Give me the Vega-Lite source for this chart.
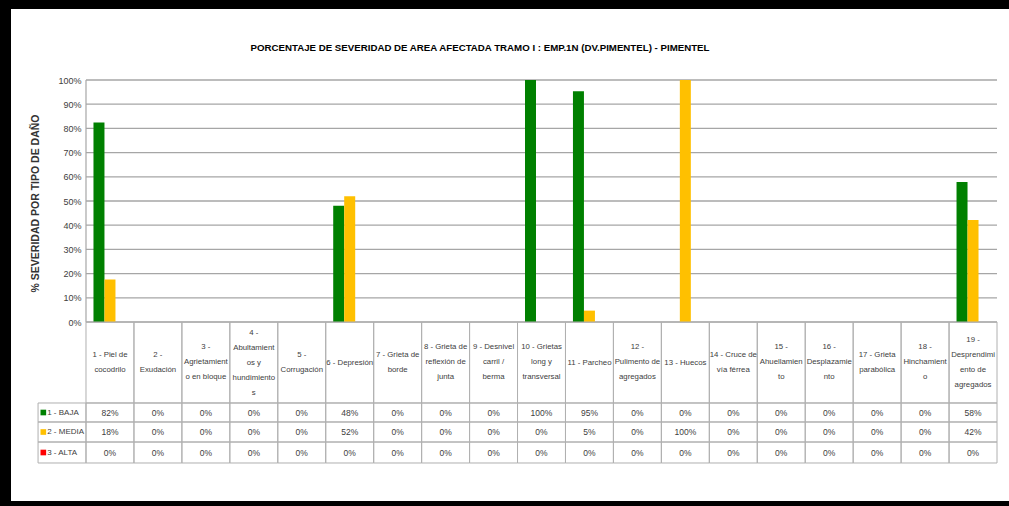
{
  "$schema": "https://vega.github.io/schema/vega-lite/v6.json",
  "width": 998,
  "height": 492,
  "autosize": {"type": "none"},
  "padding": {"left": 11, "top": 9, "right": 0, "bottom": 5},
  "background": "#000000",
  "config": {
    "view": {"fill": "#ffffff", "stroke": null},
    "font": "Liberation Sans",
    "text": {"font": "Liberation Sans"}
  },
  "title": {
    "text": "PORCENTAJE DE SEVERIDAD DE AREA AFECTADA TRAMO I : EMP.1N (DV.PIMENTEL) - PIMENTEL",
    "font": "Liberation Sans",
    "fontSize": 9.7,
    "fontWeight": "bold",
    "color": "#000000",
    "anchor": "middle",
    "baseline": "middle",
    "offset": -49,
    "dx": -30
  },
  "datasets": {
    "categorias": [
      {"tipo": "1 - Piel de cocodrilo", "etiqueta": "1 - Piel de\ncocodrilo"},
      {"tipo": "2 - Exudación", "etiqueta": "2 -\nExudación"},
      {"tipo": "3 - Agrietamiento en bloque", "etiqueta": "3 -\nAgrietamient\no en bloque"},
      {"tipo": "4 - Abultamientos y hundimientos", "etiqueta": "4 -\nAbultamient\nos y\nhundimiento\ns"},
      {"tipo": "5 - Corrugación", "etiqueta": "5 -\nCorrugación"},
      {"tipo": "6 - Depresión", "etiqueta": "6 - Depresión"},
      {"tipo": "7 - Grieta de borde", "etiqueta": "7 - Grieta de\nborde"},
      {"tipo": "8 - Grieta de reflexión de junta", "etiqueta": "8 - Grieta de\nreflexión de\njunta"},
      {"tipo": "9 - Desnivel carril / berma", "etiqueta": "9 - Desnivel\ncarril /\nberma"},
      {"tipo": "10 - Grietas long y transversal", "etiqueta": "10 - Grietas\nlong y\ntransversal"},
      {"tipo": "11 - Parcheo", "etiqueta": "11 - Parcheo"},
      {"tipo": "12 - Pulimento de agregados", "etiqueta": "12 -\nPulimento de\nagregados"},
      {"tipo": "13 - Huecos", "etiqueta": "13 - Huecos"},
      {"tipo": "14 - Cruce de vía férrea", "etiqueta": "14 - Cruce de\nvía férrea"},
      {"tipo": "15 - Ahuellamiento", "etiqueta": "15 -\nAhuellamien\nto"},
      {"tipo": "16 - Desplazamiento", "etiqueta": "16 -\nDesplazamie\nnto"},
      {"tipo": "17 - Grieta parabólica", "etiqueta": "17 - Grieta\nparabólica"},
      {"tipo": "18 - Hinchamiento", "etiqueta": "18 -\nHinchamient\no"},
      {"tipo": "19 - Desprendimiento de agregados", "etiqueta": "19 -\nDesprendimi\nento de\nagregados"}
    ],
    "valores": [
      {"tipo": "1 - Piel de cocodrilo", "nivel": "1 - BAJA", "pct": 0.824},
      {"tipo": "2 - Exudación", "nivel": "1 - BAJA", "pct": 0},
      {"tipo": "3 - Agrietamiento en bloque", "nivel": "1 - BAJA", "pct": 0},
      {"tipo": "4 - Abultamientos y hundimientos", "nivel": "1 - BAJA", "pct": 0},
      {"tipo": "5 - Corrugación", "nivel": "1 - BAJA", "pct": 0},
      {"tipo": "6 - Depresión", "nivel": "1 - BAJA", "pct": 0.48},
      {"tipo": "7 - Grieta de borde", "nivel": "1 - BAJA", "pct": 0},
      {"tipo": "8 - Grieta de reflexión de junta", "nivel": "1 - BAJA", "pct": 0},
      {"tipo": "9 - Desnivel carril / berma", "nivel": "1 - BAJA", "pct": 0},
      {"tipo": "10 - Grietas long y transversal", "nivel": "1 - BAJA", "pct": 1.0},
      {"tipo": "11 - Parcheo", "nivel": "1 - BAJA", "pct": 0.953},
      {"tipo": "12 - Pulimento de agregados", "nivel": "1 - BAJA", "pct": 0},
      {"tipo": "13 - Huecos", "nivel": "1 - BAJA", "pct": 0},
      {"tipo": "14 - Cruce de vía férrea", "nivel": "1 - BAJA", "pct": 0},
      {"tipo": "15 - Ahuellamiento", "nivel": "1 - BAJA", "pct": 0},
      {"tipo": "16 - Desplazamiento", "nivel": "1 - BAJA", "pct": 0},
      {"tipo": "17 - Grieta parabólica", "nivel": "1 - BAJA", "pct": 0},
      {"tipo": "18 - Hinchamiento", "nivel": "1 - BAJA", "pct": 0},
      {"tipo": "19 - Desprendimiento de agregados", "nivel": "1 - BAJA", "pct": 0.578},
      {"tipo": "1 - Piel de cocodrilo", "nivel": "2 - MEDIA", "pct": 0.176},
      {"tipo": "2 - Exudación", "nivel": "2 - MEDIA", "pct": 0},
      {"tipo": "3 - Agrietamiento en bloque", "nivel": "2 - MEDIA", "pct": 0},
      {"tipo": "4 - Abultamientos y hundimientos", "nivel": "2 - MEDIA", "pct": 0},
      {"tipo": "5 - Corrugación", "nivel": "2 - MEDIA", "pct": 0},
      {"tipo": "6 - Depresión", "nivel": "2 - MEDIA", "pct": 0.52},
      {"tipo": "7 - Grieta de borde", "nivel": "2 - MEDIA", "pct": 0},
      {"tipo": "8 - Grieta de reflexión de junta", "nivel": "2 - MEDIA", "pct": 0},
      {"tipo": "9 - Desnivel carril / berma", "nivel": "2 - MEDIA", "pct": 0},
      {"tipo": "10 - Grietas long y transversal", "nivel": "2 - MEDIA", "pct": 0},
      {"tipo": "11 - Parcheo", "nivel": "2 - MEDIA", "pct": 0.047},
      {"tipo": "12 - Pulimento de agregados", "nivel": "2 - MEDIA", "pct": 0},
      {"tipo": "13 - Huecos", "nivel": "2 - MEDIA", "pct": 1.0},
      {"tipo": "14 - Cruce de vía férrea", "nivel": "2 - MEDIA", "pct": 0},
      {"tipo": "15 - Ahuellamiento", "nivel": "2 - MEDIA", "pct": 0},
      {"tipo": "16 - Desplazamiento", "nivel": "2 - MEDIA", "pct": 0},
      {"tipo": "17 - Grieta parabólica", "nivel": "2 - MEDIA", "pct": 0},
      {"tipo": "18 - Hinchamiento", "nivel": "2 - MEDIA", "pct": 0},
      {"tipo": "19 - Desprendimiento de agregados", "nivel": "2 - MEDIA", "pct": 0.422},
      {"tipo": "1 - Piel de cocodrilo", "nivel": "3 - ALTA", "pct": 0},
      {"tipo": "2 - Exudación", "nivel": "3 - ALTA", "pct": 0},
      {"tipo": "3 - Agrietamiento en bloque", "nivel": "3 - ALTA", "pct": 0},
      {"tipo": "4 - Abultamientos y hundimientos", "nivel": "3 - ALTA", "pct": 0},
      {"tipo": "5 - Corrugación", "nivel": "3 - ALTA", "pct": 0},
      {"tipo": "6 - Depresión", "nivel": "3 - ALTA", "pct": 0},
      {"tipo": "7 - Grieta de borde", "nivel": "3 - ALTA", "pct": 0},
      {"tipo": "8 - Grieta de reflexión de junta", "nivel": "3 - ALTA", "pct": 0},
      {"tipo": "9 - Desnivel carril / berma", "nivel": "3 - ALTA", "pct": 0},
      {"tipo": "10 - Grietas long y transversal", "nivel": "3 - ALTA", "pct": 0},
      {"tipo": "11 - Parcheo", "nivel": "3 - ALTA", "pct": 0},
      {"tipo": "12 - Pulimento de agregados", "nivel": "3 - ALTA", "pct": 0},
      {"tipo": "13 - Huecos", "nivel": "3 - ALTA", "pct": 0},
      {"tipo": "14 - Cruce de vía férrea", "nivel": "3 - ALTA", "pct": 0},
      {"tipo": "15 - Ahuellamiento", "nivel": "3 - ALTA", "pct": 0},
      {"tipo": "16 - Desplazamiento", "nivel": "3 - ALTA", "pct": 0},
      {"tipo": "17 - Grieta parabólica", "nivel": "3 - ALTA", "pct": 0},
      {"tipo": "18 - Hinchamiento", "nivel": "3 - ALTA", "pct": 0},
      {"tipo": "19 - Desprendimiento de agregados", "nivel": "3 - ALTA", "pct": 0}
    ],
    "niveles": [
      {"nivel": "1 - BAJA"},
      {"nivel": "2 - MEDIA"},
      {"nivel": "3 - ALTA"}
    ],
    "grilla": [
      {"v": 0}, {"v": 0.1}, {"v": 0.2}, {"v": 0.3}, {"v": 0.4}, {"v": 0.5},
      {"v": 0.6}, {"v": 0.7}, {"v": 0.8}, {"v": 0.9}, {"v": 1.0}
    ]
  },
  "layer": [
    {
      "data": {"name": "grilla"},
      "mark": {"type": "rule", "color": "#a6a6a6", "strokeWidth": 1.3},
      "encoding": {
        "x": {
          "datum": "1 - Piel de cocodrilo",
          "type": "nominal",
          "bandPosition": 0,
          "scale": {
            "domain": ["leyenda", "1 - Piel de cocodrilo", "2 - Exudación", "3 - Agrietamiento en bloque", "4 - Abultamientos y hundimientos", "5 - Corrugación", "6 - Depresión", "7 - Grieta de borde", "8 - Grieta de reflexión de junta", "9 - Desnivel carril / berma", "10 - Grietas long y transversal", "11 - Parcheo", "12 - Pulimento de agregados", "13 - Huecos", "14 - Cruce de vía férrea", "15 - Ahuellamiento", "16 - Desplazamiento", "17 - Grieta parabólica", "18 - Hinchamiento", "19 - Desprendimiento de agregados"],
            "paddingInner": 0,
            "paddingOuter": 0.4072,
            "align": 0.6927
          },
          "axis": null
        },
        "x2": {"datum": "19 - Desprendimiento de agregados", "bandPosition": 1},
        "y": {
          "field": "v",
          "type": "quantitative",
          "scale": {"domain": [-0.73967, 1.29339], "nice": false, "zero": false},
          "axis": {
            "values": [0, 0.1, 0.2, 0.3, 0.4, 0.5, 0.6, 0.7, 0.8, 0.9, 1.0],
            "format": ".0%",
            "offset": -75,
            "grid": false,
            "domain": false,
            "ticks": false,
            "labelPadding": 5,
            "labelFontSize": 9,
            "labelColor": "#404040",
            "labelFont": "Liberation Sans",
            "title": "% SEVERIDAD POR TIPO DE DAÑO",
            "titleFont": "Liberation Sans",
            "titleFontSize": 10.5,
            "titleFontWeight": "bold",
            "titleColor": "#333333",
            "titleX": -51,
            "titleY": 194,
            "titleAngle": -90,
            "titleAlign": "center",
            "titleBaseline": "middle"
          }
        }
      }
    },
    {
      "data": {"values": [{}]},
      "mark": {"type": "rule", "color": "#a6a6a6", "strokeWidth": 1.2},
      "encoding": {
        "x": {"datum": "1 - Piel de cocodrilo", "type": "nominal", "bandPosition": 0},
        "y": {"datum": 1, "type": "quantitative"},
        "y2": {"datum": 0}
      }
    },
    {
      "data": {"name": "valores"},
      "mark": {"type": "bar"},
      "encoding": {
        "x": {"field": "tipo", "type": "nominal"},
        "xOffset": {
          "field": "nivel",
          "type": "nominal",
          "scale": {"domain": ["1 - BAJA", "2 - MEDIA", "3 - ALTA"], "paddingInner": 0, "paddingOuter": 0.68}
        },
        "y": {"field": "pct", "type": "quantitative", "stack": null},
        "y2": {"datum": 0},
        "color": {
          "field": "nivel",
          "type": "nominal",
          "scale": {"domain": ["1 - BAJA", "2 - MEDIA", "3 - ALTA"], "range": ["#008000", "#FFC000", "#FF0000"]},
          "legend": null
        }
      }
    },
    {
      "data": {"name": "categorias"},
      "mark": {"type": "rect", "fillOpacity": 0, "stroke": "#b0b0b0", "strokeWidth": 1},
      "encoding": {
        "x": {"field": "tipo", "type": "nominal"},
        "y": {"datum": 0, "type": "quantitative"},
        "y2": {"datum": -0.33471}
      }
    },
    {
      "data": {"name": "categorias"},
      "transform": [{"filter": "length(split(datum.etiqueta, '\\n')) === 1"}],
      "mark": {"type": "text", "lineBreak": "\n", "fontSize": 7.8, "lineHeight": 15, "color": "#404040", "baseline": "middle", "align": "center"},
      "encoding": {
        "x": {"field": "tipo", "type": "nominal"},
        "y": {"datum": -0.16736, "type": "quantitative"},
        "text": {"field": "etiqueta"}
      }
    },
    {
      "data": {"name": "categorias"},
      "transform": [{"filter": "length(split(datum.etiqueta, '\\n')) === 2"}],
      "mark": {"type": "text", "lineBreak": "\n", "fontSize": 7.8, "lineHeight": 15, "color": "#404040", "baseline": "middle", "align": "center"},
      "encoding": {
        "x": {"field": "tipo", "type": "nominal"},
        "y": {"datum": -0.13637, "type": "quantitative"},
        "text": {"field": "etiqueta"}
      }
    },
    {
      "data": {"name": "categorias"},
      "transform": [{"filter": "length(split(datum.etiqueta, '\\n')) === 3"}],
      "mark": {"type": "text", "lineBreak": "\n", "fontSize": 7.8, "lineHeight": 15, "color": "#404040", "baseline": "middle", "align": "center"},
      "encoding": {
        "x": {"field": "tipo", "type": "nominal"},
        "y": {"datum": -0.10537, "type": "quantitative"},
        "text": {"field": "etiqueta"}
      }
    },
    {
      "data": {"name": "categorias"},
      "transform": [{"filter": "length(split(datum.etiqueta, '\\n')) === 4"}],
      "mark": {"type": "text", "lineBreak": "\n", "fontSize": 7.8, "lineHeight": 15, "color": "#404040", "baseline": "middle", "align": "center"},
      "encoding": {
        "x": {"field": "tipo", "type": "nominal"},
        "y": {"datum": -0.07438, "type": "quantitative"},
        "text": {"field": "etiqueta"}
      }
    },
    {
      "data": {"name": "categorias"},
      "transform": [{"filter": "length(split(datum.etiqueta, '\\n')) === 5"}],
      "mark": {"type": "text", "lineBreak": "\n", "fontSize": 7.8, "lineHeight": 15, "color": "#404040", "baseline": "middle", "align": "center"},
      "encoding": {
        "x": {"field": "tipo", "type": "nominal"},
        "y": {"datum": -0.04339, "type": "quantitative"},
        "text": {"field": "etiqueta"}
      }
    },
    {
      "transform": [{"filter": "datum.nivel === '1 - BAJA'"}],
      "data": {"name": "valores"},
      "mark": {"type": "rect", "fillOpacity": 0, "stroke": "#b0b0b0", "strokeWidth": 1},
      "encoding": {
        "x": {"field": "tipo", "type": "nominal"},
        "y": {"datum": -0.33471, "type": "quantitative"},
        "y2": {"datum": -0.41322}
      }
    },
    {
      "transform": [{"filter": "datum.nivel === '2 - MEDIA'"}],
      "data": {"name": "valores"},
      "mark": {"type": "rect", "fillOpacity": 0, "stroke": "#b0b0b0", "strokeWidth": 1},
      "encoding": {
        "x": {"field": "tipo", "type": "nominal"},
        "y": {"datum": -0.41322, "type": "quantitative"},
        "y2": {"datum": -0.49587}
      }
    },
    {
      "transform": [{"filter": "datum.nivel === '3 - ALTA'"}],
      "data": {"name": "valores"},
      "mark": {"type": "rect", "fillOpacity": 0, "stroke": "#b0b0b0", "strokeWidth": 1},
      "encoding": {
        "x": {"field": "tipo", "type": "nominal"},
        "y": {"datum": -0.49587, "type": "quantitative"},
        "y2": {"datum": -0.58264}
      }
    },
    {
      "transform": [{"filter": "datum.nivel === '1 - BAJA'"}],
      "data": {"name": "valores"},
      "mark": {"type": "text", "fontSize": 8.5, "color": "#404040", "baseline": "middle", "align": "center"},
      "encoding": {
        "x": {"field": "tipo", "type": "nominal"},
        "y": {"datum": -0.37397, "type": "quantitative"},
        "text": {"field": "pct", "type": "quantitative", "format": ".0%"}
      }
    },
    {
      "transform": [{"filter": "datum.nivel === '2 - MEDIA'"}],
      "data": {"name": "valores"},
      "mark": {"type": "text", "fontSize": 8.5, "color": "#404040", "baseline": "middle", "align": "center"},
      "encoding": {
        "x": {"field": "tipo", "type": "nominal"},
        "y": {"datum": -0.45455, "type": "quantitative"},
        "text": {"field": "pct", "type": "quantitative", "format": ".0%"}
      }
    },
    {
      "transform": [{"filter": "datum.nivel === '3 - ALTA'"}],
      "data": {"name": "valores"},
      "mark": {"type": "text", "fontSize": 8.5, "color": "#404040", "baseline": "middle", "align": "center"},
      "encoding": {
        "x": {"field": "tipo", "type": "nominal"},
        "y": {"datum": -0.53926, "type": "quantitative"},
        "text": {"field": "pct", "type": "quantitative", "format": ".0%"}
      }
    },
    {
      "data": {"values": [{}]},
      "mark": {"type": "rect", "fillOpacity": 0, "stroke": "#b0b0b0", "strokeWidth": 1},
      "encoding": {
        "x": {"datum": "leyenda", "type": "nominal"},
        "y": {"datum": -0.33471, "type": "quantitative"},
        "y2": {"datum": -0.41322}
      }
    },
    {
      "data": {"values": [{}]},
      "mark": {"type": "rect", "fillOpacity": 0, "stroke": "#b0b0b0", "strokeWidth": 1},
      "encoding": {
        "x": {"datum": "leyenda", "type": "nominal"},
        "y": {"datum": -0.41322, "type": "quantitative"},
        "y2": {"datum": -0.49587}
      }
    },
    {
      "data": {"values": [{}]},
      "mark": {"type": "rect", "fillOpacity": 0, "stroke": "#b0b0b0", "strokeWidth": 1},
      "encoding": {
        "x": {"datum": "leyenda", "type": "nominal"},
        "y": {"datum": -0.49587, "type": "quantitative"},
        "y2": {"datum": -0.58264}
      }
    },
    {
      "transform": [{"filter": "datum.nivel === '1 - BAJA'"}],
      "data": {"name": "niveles"},
      "layer": [
        {
          "mark": {"type": "square", "filled": true, "opacity": 1, "size": 32},
          "encoding": {
            "x": {"datum": "leyenda", "type": "nominal", "bandPosition": 0.11},
            "y": {"datum": -0.37397, "type": "quantitative"},
            "color": {"field": "nivel", "type": "nominal", "legend": null}
          }
        },
        {
          "mark": {"type": "text", "fontSize": 8, "color": "#404040", "baseline": "middle", "align": "left"},
          "encoding": {
            "x": {"datum": "leyenda", "type": "nominal", "bandPosition": 0.19},
            "y": {"datum": -0.37397, "type": "quantitative"},
            "text": {"field": "nivel"}
          }
        }
      ]
    },
    {
      "transform": [{"filter": "datum.nivel === '2 - MEDIA'"}],
      "data": {"name": "niveles"},
      "layer": [
        {
          "mark": {"type": "square", "filled": true, "opacity": 1, "size": 32},
          "encoding": {
            "x": {"datum": "leyenda", "type": "nominal", "bandPosition": 0.11},
            "y": {"datum": -0.45455, "type": "quantitative"},
            "color": {"field": "nivel", "type": "nominal", "legend": null}
          }
        },
        {
          "mark": {"type": "text", "fontSize": 8, "color": "#404040", "baseline": "middle", "align": "left"},
          "encoding": {
            "x": {"datum": "leyenda", "type": "nominal", "bandPosition": 0.19},
            "y": {"datum": -0.45455, "type": "quantitative"},
            "text": {"field": "nivel"}
          }
        }
      ]
    },
    {
      "transform": [{"filter": "datum.nivel === '3 - ALTA'"}],
      "data": {"name": "niveles"},
      "layer": [
        {
          "mark": {"type": "square", "filled": true, "opacity": 1, "size": 32},
          "encoding": {
            "x": {"datum": "leyenda", "type": "nominal", "bandPosition": 0.11},
            "y": {"datum": -0.53926, "type": "quantitative"},
            "color": {"field": "nivel", "type": "nominal", "legend": null}
          }
        },
        {
          "mark": {"type": "text", "fontSize": 8, "color": "#404040", "baseline": "middle", "align": "left"},
          "encoding": {
            "x": {"datum": "leyenda", "type": "nominal", "bandPosition": 0.19},
            "y": {"datum": -0.53926, "type": "quantitative"},
            "text": {"field": "nivel"}
          }
        }
      ]
    }
  ]
}
